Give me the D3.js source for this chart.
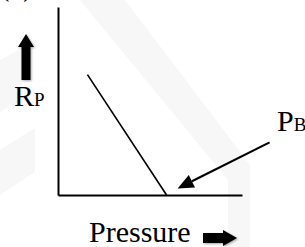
<!DOCTYPE html>
<html>
<head>
<meta charset="utf-8">
<script src="https://cdn.jsdelivr.net/npm/d3@7"></script>
<style>
  body { margin: 0; background: #fff; }
</style>
</head>
<body>
<div id="chart"></div>
<script>
// data
const pressure = [1.6, 5.9]
const rp = [6.4, 0]
const pbArrowX = [11.5, 6.5]
const pbArrowY = [2.8, 0.35]
const xDomain = [0, 10]
const yDomain = [0, 10]

const serif = "Liberation Serif, DejaVu Serif, serif"

const dimensions = {
  width: 305,
  height: 247,
  margin: { top: 7, right: 63, bottom: 52, left: 58 },
}
dimensions.boundedWidth = dimensions.width - dimensions.margin.left - dimensions.margin.right
dimensions.boundedHeight = dimensions.height - dimensions.margin.top - dimensions.margin.bottom

const svg = d3.select("#chart")
  .append("svg")
    .attr("width", dimensions.width)
    .attr("height", dimensions.height)

// faint watermark in the background
const wm = svg.append("g").attr("fill", "#f7f7f7")
wm.append("path").attr("d", "M80,0 L125,0 L250,165 L250,247 L228,247 L228,180 Z")
wm.append("path").attr("d", "M0,60 L22,48 L22,100 L0,112 Z")
wm.append("path").attr("d", "M0,150 L35,128 L35,172 L0,195 Z")

svg.append("text")
    .attr("x", 0)
    .attr("y", -4)
    .style("font-family", serif)
    .style("font-size", "28px")
    .text("(b)")

const bounds = svg.append("g")
    .attr("transform", `translate(${dimensions.margin.left},${dimensions.margin.top})`)

const xScale = d3.scaleLinear().domain(xDomain).range([0, dimensions.boundedWidth])
const yScale = d3.scaleLinear().domain(yDomain).range([dimensions.boundedHeight, 0])

// axes (plain lines, no ticks)
const xAxis = bounds.append("g")
    .attr("transform", `translate(0,${dimensions.boundedHeight})`)
    .call(d3.axisBottom(xScale).ticks(0).tickSize(0).tickSizeOuter(0))
const yAxis = bounds.append("g")
    .call(d3.axisLeft(yScale).ticks(0).tickSize(0).tickSizeOuter(0))
xAxis.select(".domain").attr("stroke-width", 2)
yAxis.select(".domain").attr("stroke-width", 2)

// data line
const lineData = d3.zip(pressure, rp)
bounds.append("path")
    .datum(lineData)
    .attr("fill", "none")
    .attr("stroke", "#000")
    .attr("stroke-width", 1.6)
    .attr("d", d3.line().x(d => xScale(d[0])).y(d => yScale(d[1])))

// PB arrow
const ax0 = xScale(pbArrowX[0]), ay0 = yScale(pbArrowY[0])
const ax1 = xScale(pbArrowX[1]), ay1 = yScale(pbArrowY[1])
const ang = Math.atan2(ay1 - ay0, ax1 - ax0)
const headLen = 16, headW = 7
const bx = ax1 - headLen * Math.cos(ang), by = ay1 - headLen * Math.sin(ang)
bounds.append("line")
    .attr("x1", ax0).attr("y1", ay0)
    .attr("x2", bx).attr("y2", by)
    .attr("stroke", "#000")
    .attr("stroke-width", 2.2)
bounds.append("path")
    .attr("fill", "#000")
    .attr("d", `M${ax1},${ay1} L${bx - headW * Math.sin(ang)},${by + headW * Math.cos(ang)} L${bx + headW * Math.sin(ang)},${by - headW * Math.cos(ang)} Z`)

// labels
const pb = svg.append("text")
    .attr("x", 277)
    .attr("y", 131)
    .style("font-family", serif)
    .style("font-size", "30px")
pb.append("tspan").text("P")
pb.append("tspan").style("font-size", "19px").text("B")

const rpLabel = svg.append("text")
    .attr("x", 14)
    .attr("y", 106)
    .style("font-family", serif)
    .style("font-size", "30px")
rpLabel.append("tspan").text("R")
rpLabel.append("tspan").style("font-size", "19px").text("P")

svg.append("text")
    .attr("x", 89)
    .attr("y", 242)
    .style("font-family", serif)
    .style("font-size", "30px")
    .text("Pressure")

// block arrows
const blur = svg.append("defs").append("filter").attr("id", "sh")
  .attr("x", "-30%").attr("y", "-30%").attr("width", "160%").attr("height", "160%")
blur.append("feDropShadow").attr("dx", 1).attr("dy", 1).attr("stdDeviation", 1.2)
  .attr("flood-color", "#000").attr("flood-opacity", 0.35)

svg.append("path")
    .attr("filter", "url(#sh)")
    .attr("fill", "#000")
    .attr("d", "M26,34 L34,47 L30.5,47 L30.5,80 L21.5,80 L21.5,47 L18,47 Z")

svg.append("path")
    .attr("filter", "url(#sh)")
    .attr("fill", "#000")
    .attr("d", "M203,233 L223,233 L223,230 L237,238 L223,246 L223,243 L203,243 Z")
</script>
</body>
</html>
